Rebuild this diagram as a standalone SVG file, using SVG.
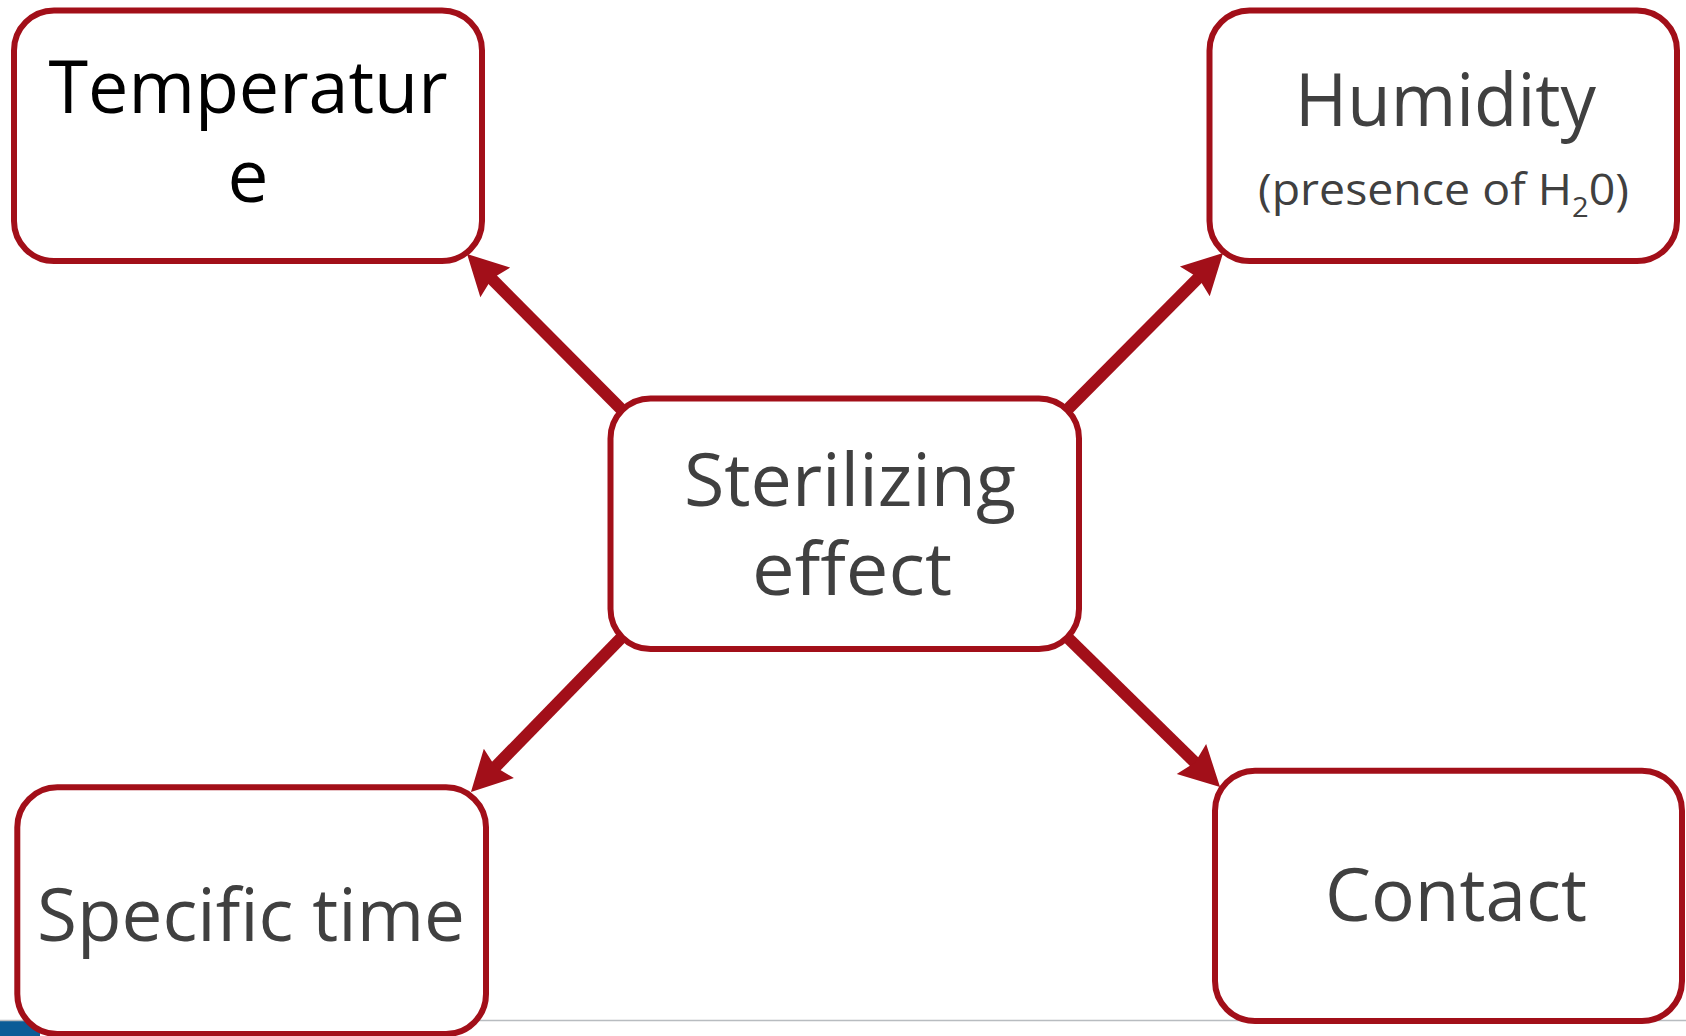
<svg xmlns="http://www.w3.org/2000/svg" width="1686" height="1036" viewBox="0 0 1686 1036">
<style>
.box{fill:#ffffff;stroke:#a20f19;stroke-width:6}
.t{font-family:"Open Sans","Noto Sans","DejaVu Sans",sans-serif;fill:#404040;text-anchor:middle}
.big{font-size:73px}
.conn{stroke:#a20f19;stroke-width:12;fill:none;stroke-linecap:butt}
</style>
<defs>
<marker id="ah" markerUnits="userSpaceOnUse" viewBox="-42 -23 44 46" markerWidth="44" markerHeight="46" refX="-30" refY="0" orient="auto">
<path d="M0,0 L-40,-21 L-35,0 L-40,21 Z" fill="#a20f19"/>
</marker>
</defs>
<rect x="0" y="0" width="1686" height="1036" fill="#ffffff"/>
<g id="background">
<rect x="0" y="1021" width="40" height="15" fill="#0b5c97"/>
<line x1="0" y1="1020.5" x2="1686" y2="1020.5" stroke="#b8bcc0" stroke-width="1.5"/>
</g>
<g id="node-temperature">
<rect class="box" x="14" y="10.5" width="468" height="250.5" rx="40"/>
<text class="t big" x="248" y="112.7" style="fill:#000000" textLength="399" lengthAdjust="spacingAndGlyphs">Temperatur</text>
<text class="t big" x="248" y="201.7" style="fill:#000000">e</text>
</g>
<g id="node-humidity">
<rect class="box" x="1209.5" y="10.5" width="467.5" height="250.5" rx="40"/>
<text class="t big" x="1445.5" y="126" textLength="301" lengthAdjust="spacingAndGlyphs">Humidity</text>
<text class="t" x="1443.5" y="205" font-size="43" textLength="371" lengthAdjust="spacingAndGlyphs">(presence of H<tspan font-size="27" dy="12">2</tspan><tspan dy="-12">0)</tspan></text>
</g>
<g id="node-sterilizing">
<rect class="box" x="610.5" y="398.5" width="468.5" height="250.5" rx="40"/>
<text class="t big" x="850" y="506" textLength="332" lengthAdjust="spacingAndGlyphs">Sterilizing</text>
<text class="t big" x="852" y="595" textLength="200" lengthAdjust="spacingAndGlyphs">effect</text>
</g>
<g id="node-specific-time">
<rect class="box" x="17.3" y="787.3" width="468.7" height="246.7" rx="40"/>
<text class="t big" x="251" y="941" textLength="428" lengthAdjust="spacingAndGlyphs">Specific time</text>
</g>
<g id="node-contact">
<rect class="box" x="1215" y="770.7" width="467" height="250.3" rx="40"/>
<text class="t big" x="1456" y="921" textLength="262" lengthAdjust="spacingAndGlyphs">Contact</text>
</g>
<g id="connectors">
<line class="conn" x1="622" y1="410" x2="488.2" y2="275.3" marker-end="url(#ah)"/>
<line class="conn" x1="1067" y1="410" x2="1201.9" y2="274.3" marker-end="url(#ah)"/>
<line class="conn" x1="622" y1="637" x2="491.9" y2="770.5" marker-end="url(#ah)"/>
<line class="conn" x1="1067" y1="637" x2="1198.6" y2="766" marker-end="url(#ah)"/>
</g>
</svg>
